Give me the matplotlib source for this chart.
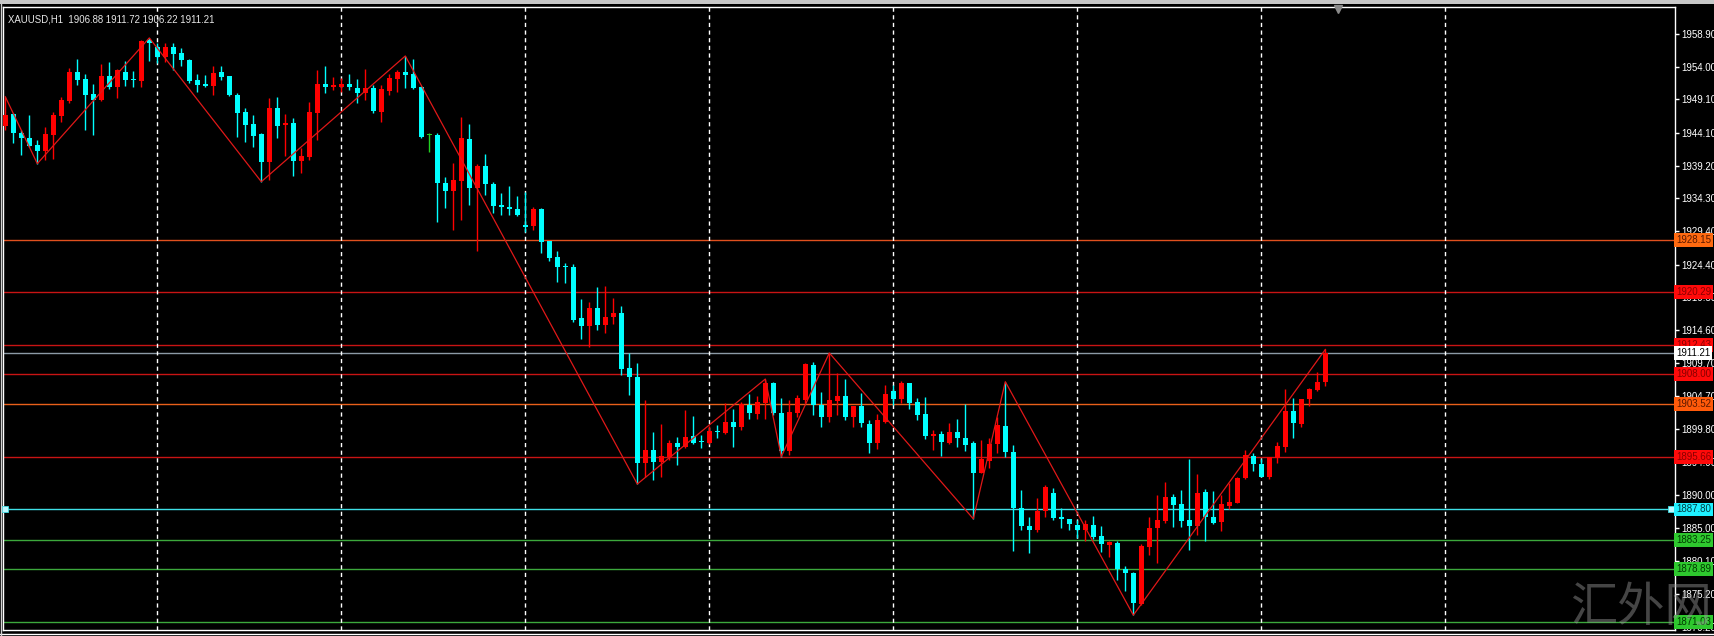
import numpy as np
import matplotlib
matplotlib.use("Agg")
import matplotlib.pyplot as plt
from matplotlib.lines import Line2D
from matplotlib.patches import Rectangle

# XAUUSD H1 candles (oldest -> newest)
opens = [1945.1, 1946.9, 1944.1, 1943.3, 1942.3, 1941.4, 1943.8, 1946.6, 1948.9, 1953.2,
         1952.2, 1949.9, 1949.0, 1952.6, 1951.0, 1953.2, 1952.2, 1951.9, 1958.0, 1956.9,
         1955.4, 1956.9, 1956.0, 1955.0, 1952.0, 1951.4, 1951.1, 1953.2, 1952.6, 1949.8,
         1947.2, 1945.4, 1943.9, 1939.8, 1947.8, 1945.3, 1945.6, 1939.9, 1940.5, 1947.1,
         1951.4, 1951.0, 1951.0, 1951.4, 1950.8, 1950.1, 1950.8, 1947.2, 1950.4, 1952.2,
         1953.2, 1952.9, 1950.9, 1943.8, 1943.8, 1936.6, 1935.4, 1936.9, 1943.2, 1935.9,
         1939.1, 1936.5, 1933.3, 1933.0, 1932.7, 1930.3, 1930.2, 1932.7, 1927.9, 1925.6,
         1924.2, 1924.0, 1916.4, 1915.2, 1917.9, 1915.4, 1916.6, 1917.2, 1909.0, 1907.6,
         1894.8, 1896.7, 1894.9, 1895.7, 1897.7, 1897.2, 1898.8, 1898.0, 1897.7, 1899.6,
         1899.2, 1900.9, 1900.1, 1903.4, 1902.1, 1903.7, 1906.7, 1902.2, 1896.5, 1902.2,
         1904.2, 1909.4, 1903.4, 1901.6, 1904.0, 1904.8, 1901.6, 1903.3, 1900.6, 1897.7,
         1900.9, 1905.5, 1904.3, 1906.7, 1903.9, 1902.1, 1898.8, 1899.1, 1897.7, 1899.4,
         1898.5, 1897.7, 1893.3, 1895.0, 1897.6, 1900.3, 1896.4, 1888.0, 1885.3, 1884.7,
         1887.6, 1890.3, 1886.7, 1886.4, 1885.5, 1884.7, 1885.5, 1883.8, 1882.5, 1882.8,
         1878.9, 1878.3, 1873.7, 1882.2, 1885.0, 1886.1, 1889.7, 1888.6, 1886.2, 1885.3,
         1890.4, 1886.7, 1886.0, 1888.3, 1888.8, 1892.5, 1895.8, 1894.6, 1892.7, 1895.5,
         1897.2, 1902.5, 1900.6, 1904.3, 1905.7, 1906.88]
highs = [1949.5, 1947.1, 1944.5, 1946.8, 1943.0, 1945.0, 1947.2, 1949.5, 1953.8, 1955.1,
         1952.9, 1951.4, 1954.4, 1954.7, 1953.6, 1954.9, 1953.4, 1958.0, 1958.3, 1957.5,
         1957.5, 1957.5, 1956.8, 1955.1, 1952.9, 1952.8, 1954.1, 1954.1, 1952.6, 1950.1,
         1947.8, 1946.8, 1944.1, 1949.3, 1949.5, 1946.9, 1946.3, 1941.8, 1948.7, 1953.5,
         1954.1, 1952.5, 1952.3, 1952.9, 1952.2, 1953.7, 1951.3, 1951.3, 1952.9, 1953.5,
         1955.6, 1955.1, 1951.1, 1944.1, 1944.1, 1937.5, 1939.6, 1946.5, 1945.4, 1939.5,
         1941.0, 1936.8, 1935.1, 1936.2, 1934.7, 1935.3, 1933.0, 1932.9, 1927.9, 1926.4,
         1924.7, 1924.5, 1919.3, 1918.8, 1921.1, 1921.2, 1919.4, 1918.2, 1911.2, 1909.7,
         1904.2, 1899.4, 1900.6, 1898.2, 1898.6, 1902.7, 1901.8, 1898.9, 1900.3, 1900.4,
         1903.7, 1902.8, 1903.9, 1905.1, 1904.8, 1907.3, 1906.9, 1904.5, 1904.2, 1904.9,
         1909.7, 1909.9, 1905.4, 1911.2, 1908.2, 1907.3, 1903.3, 1905.2, 1901.2, 1902.1,
         1906.4, 1906.4, 1907.0, 1906.7, 1904.5, 1904.6, 1899.7, 1899.6, 1900.8, 1901.3,
         1903.6, 1898.0, 1898.2, 1898.5, 1901.6, 1906.9, 1897.4, 1890.7, 1886.7, 1889.5,
         1891.5, 1891.0, 1888.0, 1886.4, 1886.2, 1886.2, 1886.8, 1885.3, 1883.1, 1883.1,
         1879.3, 1878.5, 1882.6, 1886.7, 1890.0, 1891.9, 1890.1, 1890.7, 1895.4, 1893.1,
         1890.9, 1890.6, 1890.0, 1891.8, 1892.7, 1896.7, 1896.2, 1895.4, 1895.7, 1897.9,
         1905.8, 1904.5, 1904.3, 1906.0, 1908.4, 1911.72]
lows = [1944.5, 1942.6, 1940.8, 1942.0, 1939.5, 1940.0, 1940.2, 1945.7, 1948.6, 1951.3,
        1944.5, 1943.8, 1948.8, 1950.7, 1949.3, 1951.1, 1951.0, 1951.0, 1954.9, 1954.5,
        1954.7, 1953.5, 1954.1, 1951.6, 1950.2, 1951.0, 1949.8, 1952.0, 1949.6, 1943.5,
        1942.7, 1942.0, 1936.8, 1937.1, 1943.3, 1940.6, 1937.7, 1938.1, 1940.0, 1943.0,
        1950.1, 1950.5, 1950.2, 1950.5, 1948.6, 1949.0, 1947.1, 1945.7, 1949.8, 1950.2,
        1950.8, 1950.7, 1943.4, 1941.2, 1930.8, 1932.9, 1929.6, 1931.1, 1933.3, 1926.4,
        1934.8, 1932.1, 1931.8, 1931.8, 1931.7, 1929.3, 1929.6, 1926.1, 1925.0, 1921.8,
        1921.7, 1915.8, 1913.3, 1912.1, 1914.6, 1914.2, 1915.5, 1907.9, 1904.9, 1891.6,
        1892.7, 1892.2, 1892.7, 1895.2, 1894.5, 1897.0, 1897.6, 1897.0, 1897.6, 1898.5,
        1899.1, 1897.2, 1899.7, 1901.3, 1901.3, 1901.3, 1901.9, 1895.7, 1895.9, 1901.6,
        1903.7, 1901.9, 1900.1, 1900.9, 1901.9, 1901.2, 1900.1, 1900.1, 1896.3, 1896.8,
        1900.7, 1903.4, 1903.7, 1902.8, 1901.2, 1898.3, 1896.7, 1895.8, 1897.6, 1897.2,
        1896.5, 1886.4, 1893.2, 1894.0, 1896.3, 1895.7, 1881.6, 1884.7, 1881.3, 1884.4,
        1886.7, 1886.2, 1885.0, 1884.7, 1883.5, 1883.1, 1883.4, 1881.5, 1880.7, 1877.3,
        1875.6, 1872.0, 1873.5, 1881.0, 1879.8, 1885.8, 1885.2, 1885.2, 1881.7, 1884.0,
        1883.1, 1885.6, 1884.6, 1887.9, 1888.7, 1892.4, 1893.6, 1892.6, 1892.4, 1894.8,
        1896.4, 1898.5, 1900.1, 1903.3, 1905.5, 1906.22]
closes = [1946.8, 1944.1, 1943.3, 1942.1, 1941.4, 1943.9, 1946.8, 1949.0, 1953.2, 1952.0,
          1949.8, 1949.0, 1952.6, 1951.0, 1953.5, 1952.0, 1952.0, 1957.8, 1957.5, 1955.4,
          1956.9, 1955.9, 1955.0, 1951.9, 1951.3, 1951.1, 1953.1, 1952.5, 1949.8, 1947.1,
          1945.3, 1943.6, 1939.8, 1947.8, 1945.1, 1945.6, 1939.9, 1940.6, 1947.2, 1951.4,
          1951.0, 1951.3, 1951.4, 1950.9, 1950.1, 1950.8, 1947.4, 1950.7, 1952.3, 1953.2,
          1952.8, 1950.8, 1943.5, 1943.8, 1936.6, 1935.4, 1937.1, 1943.3, 1935.9, 1939.1,
          1936.5, 1933.2, 1933.0, 1932.7, 1931.8, 1930.0, 1932.7, 1927.8, 1925.4, 1924.1,
          1924.0, 1916.1, 1915.2, 1917.9, 1915.4, 1916.6, 1917.2, 1908.8, 1907.6, 1894.8,
          1896.7, 1894.9, 1895.8, 1897.7, 1897.2, 1898.6, 1897.7, 1897.9, 1899.6, 1899.4,
          1900.9, 1900.1, 1903.6, 1902.2, 1903.9, 1906.7, 1902.2, 1896.5, 1902.4, 1904.5,
          1909.6, 1903.4, 1901.6, 1904.2, 1904.8, 1901.6, 1903.3, 1900.8, 1897.7, 1901.2,
          1905.1, 1904.3, 1906.7, 1903.7, 1901.9, 1898.8, 1899.1, 1897.9, 1899.4, 1898.5,
          1897.4, 1893.3, 1895.4, 1897.6, 1900.4, 1896.4, 1888.0, 1885.3, 1884.7, 1887.6,
          1891.2, 1886.5, 1886.4, 1885.6, 1884.7, 1885.6, 1883.7, 1882.6, 1882.9, 1878.9,
          1878.3, 1873.8, 1882.3, 1885.0, 1886.2, 1889.7, 1888.5, 1886.1, 1885.3, 1890.3,
          1886.7, 1885.8, 1888.6, 1888.9, 1892.5, 1895.9, 1894.6, 1892.7, 1895.6, 1897.3,
          1902.5, 1900.7, 1904.3, 1905.8, 1906.9, 1911.21]

# zigzag turning points (bar index, price)
zz_idx = [0, 4, 18, 32, 50, 79, 95, 97, 103, 121, 125, 141, 165]
zz_price = [1949.5, 1939.5, 1958.3, 1936.8, 1955.6, 1891.6, 1907.3, 1895.7,
            1911.2, 1886.4, 1906.9, 1872.0, 1911.72]

# day separators (first bar of each day)
day_starts = [19, 42, 65, 88, 111, 134, 157, 180]

# horizontal levels: price, line colour, label background, label text colour
levels = [1928.15, 1920.29, 1912.43, 1911.21, 1908.00, 1903.52,
          1895.66, 1887.80, 1883.25, 1878.89, 1871.03]
level_colors = ['#e0501e', '#c81414', '#c81414', '#8c9aa6', '#c81414', '#e8601a',
                '#c81414', '#3ee0e6', '#3ca83c', '#3ca83c', '#3ca83c']
label_bg = ['#ff6a10', '#ff0a0a', '#ff0a0a', '#ffffff', '#ff0a0a', '#ff5a0a',
            '#ff0a0a', '#1ef0ff', '#2ec82e', '#2ec82e', '#2ec82e']
label_fg = ['#5a1800', '#8a0000', '#8a0000', '#000000', '#8a0000', '#5a1800',
            '#8a0000', '#003a40', '#003a00', '#003a00', '#003a00']

price_ticks = [1958.90, 1954.00, 1949.10, 1944.10, 1939.20, 1934.30, 1929.40,
               1924.40, 1919.50, 1914.60, 1909.70, 1904.70, 1899.80, 1894.90,
               1890.00, 1885.00, 1880.10, 1875.20, 1870.20]

title = "XAUUSD,H1  1906.88 1911.72 1906.22 1911.21"

plt.rcParams['font.family'] = ['Liberation Sans', 'DejaVu Sans']

W, H = 1714, 636
fig = plt.figure(figsize=(W / 100, H / 100), dpi=100, facecolor='black')
ax = fig.add_axes([3 / W, 6 / H, 1672 / W, 623 / H])
ax.set_facecolor('black')

n = len(opens)
x = np.arange(n)
o = np.array(opens)
c = np.array(closes)
hi = np.array(highs)
lo = np.array(lows)

colors = np.where(c > o, '#ff0000', np.where(c < o, '#00ffff', '#22d022'))

# horizontal levels behind the candles
for lvl, col in zip(levels, level_colors):
    ax.axhline(lvl, color=col, lw=1.0, zorder=1)
ax.plot([-0.05, 208.25], [1887.80, 1887.80], ls='none', marker='s', ms=4,
        mfc='#bff8ff', mec='#3ee0e6', mew=0.6, clip_on=False, zorder=6)

for d in day_starts:
    ax.axvline(d, color='white', lw=1.0, ls=(0, (3, 2.5)), zorder=1.5)

ax.vlines(x, lo, hi, colors=colors, lw=1.0, zorder=3)
body = np.maximum(np.abs(c - o), 0.16)
ax.bar(x, body, bottom=np.minimum(o, c) - (body - np.abs(c - o)) / 2,
       width=0.64, color=colors, linewidth=0, zorder=3.5)

ax.plot(zz_idx, zz_price, color='#e01818', lw=0.9, zorder=4)

ax.set_xlim(-0.29, 208.71)
ax.set_ylim(1869.78, 1962.92)
ax.set_xticks([])
ax.yaxis.tick_right()
ax.set_yticks(price_ticks)
ax.set_yticklabels([f"{t:.2f}" for t in price_ticks])
ax.tick_params(axis='y', colors='white', labelcolor='white', length=3, width=1,
               pad=1.5, labelsize=7)
for s in ax.spines.values():
    s.set_color('white')
    s.set_linewidth(1.0)

# price labels of the levels on the scale
for lvl, bg, fg in zip(levels, label_bg, label_fg):
    ax.text(1.0006, lvl, f"{lvl:.2f}", transform=ax.get_yaxis_transform(),
            ha='left', va='center', fontsize=7, color=fg, clip_on=False, zorder=10,
            bbox=dict(boxstyle='square,pad=0.2', fc=bg, ec='none'))

ax.text(5 / 1672, 1 - 7 / 623, title, transform=ax.transAxes, ha='left', va='top',
        color='#e8e8e8', fontsize=6.9, zorder=10)

# chart shift marker
ax.plot([166.6], [1 - 2 / 623], transform=ax.get_xaxis_transform(), marker='v', ms=6,
        color='#8a8a8a', clip_on=False, zorder=10)

# window decorations
fig.patches.append(Rectangle((0, 1 - 4 / H), 1, 4 / H, transform=fig.transFigure,
                             fc='#c8c8c8', ec='none'))
fig.lines.append(Line2D([0, 1], [2 / H, 2 / H], transform=fig.transFigure,
                        color='white', lw=1.0))
fig.lines.append(Line2D([1 / W, 1 / W], [0, 1 - 4 / H], transform=fig.transFigure,
                        color='#d0d0d0', lw=1.0))

fig.text(1641 / W, 1 - 608 / H, "汇外网", ha='center', va='center', fontsize=34,
         color='#9a9a9a', alpha=0.45, family=['Noto Sans CJK SC', 'DejaVu Sans'],
         fontweight='light', zorder=20)

fig.savefig("out.png", dpi=100, facecolor='black')
